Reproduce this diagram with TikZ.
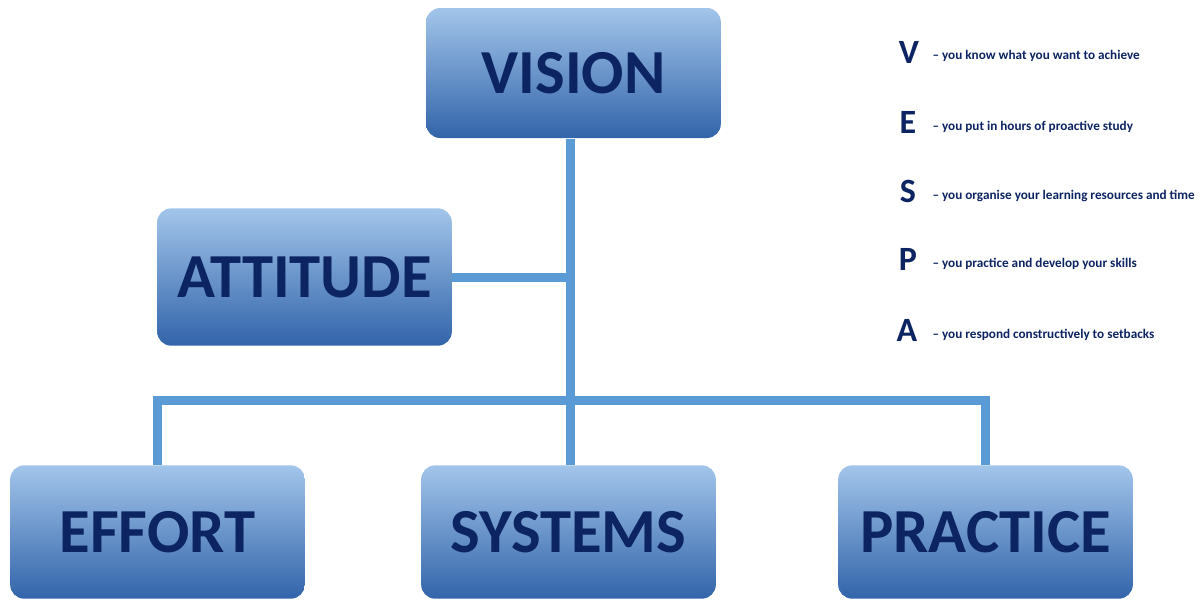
\documentclass[tikz,border=0pt]{standalone}
\usepackage{fontspec}
\setmainfont{Carlito}

\definecolor{boxtop}{RGB}{162,197,234}
\definecolor{boxmid}{RGB}{96,145,210}
\definecolor{boxbot}{RGB}{50,100,170}
\definecolor{navy}{RGB}{12,36,98}
\definecolor{linkblue}{RGB}{91,155,213}

\tikzset{every picture/.style={line width=0.75pt}}
\tikzset{
  vespabox/.style={rectangle, rounded corners=10.5pt, top color=boxtop, middle color=boxmid, bottom color=boxbot,
    minimum width=221pt, minimum height=100pt, inner sep=0pt, text=navy,
    font=\fontsize{47}{50}\selectfont\bfseries},
  link/.style={draw=linkblue, line width=6.75pt, line join=miter},
  keyletter/.style={anchor=base, inner sep=0pt, text=navy, font=\fontsize{25.5}{28}\selectfont\bfseries},
  keytext/.style={anchor=base west, inner sep=0pt, text=navy, font=\fontsize{9.9}{11}\selectfont\bfseries}
}

\begin{document}
\begin{tikzpicture}[x=0.75pt,y=0.75pt,yscale=-1,xscale=1]
\useasboundingbox (0,0) rectangle (1200,600);

\coordinate (hub) at (570,400);

% Boxes
\node[vespabox, minimum height=97.5pt] (vision) at (573.5,73) {VISION};
\node[vespabox, minimum height=103pt] (attitude) at (304.5,277) {ATTITUDE};
\node[vespabox] (effort) at (157.5,532) {EFFORT};
\node[vespabox] (systems) at (568.5,532) {SYSTEMS};
\node[vespabox] (practice) at (985.5,532) {PRACTICE};

% Lines
\draw[link] (vision.south -| hub) -- (systems.north -| hub);
\draw[link] (attitude.east) -- (attitude.east -| hub);
\draw[link] (effort.north) -- (effort.north |- hub) -- (practice.north |- hub) -- (practice.north);

% Key
\node[keyletter] (kv) at (909,63) {V};
\node[keytext] (tv) at (932,59) {– you know what you want to achieve};
\node[keyletter] (ke) at (908,133) {E};
\node[keytext] (te) at (932,130) {– you put in hours of proactive study};
\node[keyletter] (ks) at (908,202) {S};
\node[keytext] (ts) at (932,199) {– you organise your learning resources and time};
\node[keyletter] (kp) at (908,270) {P};
\node[keytext] (tp) at (932,267) {– you practice and develop your skills};
\node[keyletter] (ka) at (907,341) {A};
\node[keytext] (ta) at (932,338) {– you respond constructively to setbacks};

\end{tikzpicture}
\end{document}
